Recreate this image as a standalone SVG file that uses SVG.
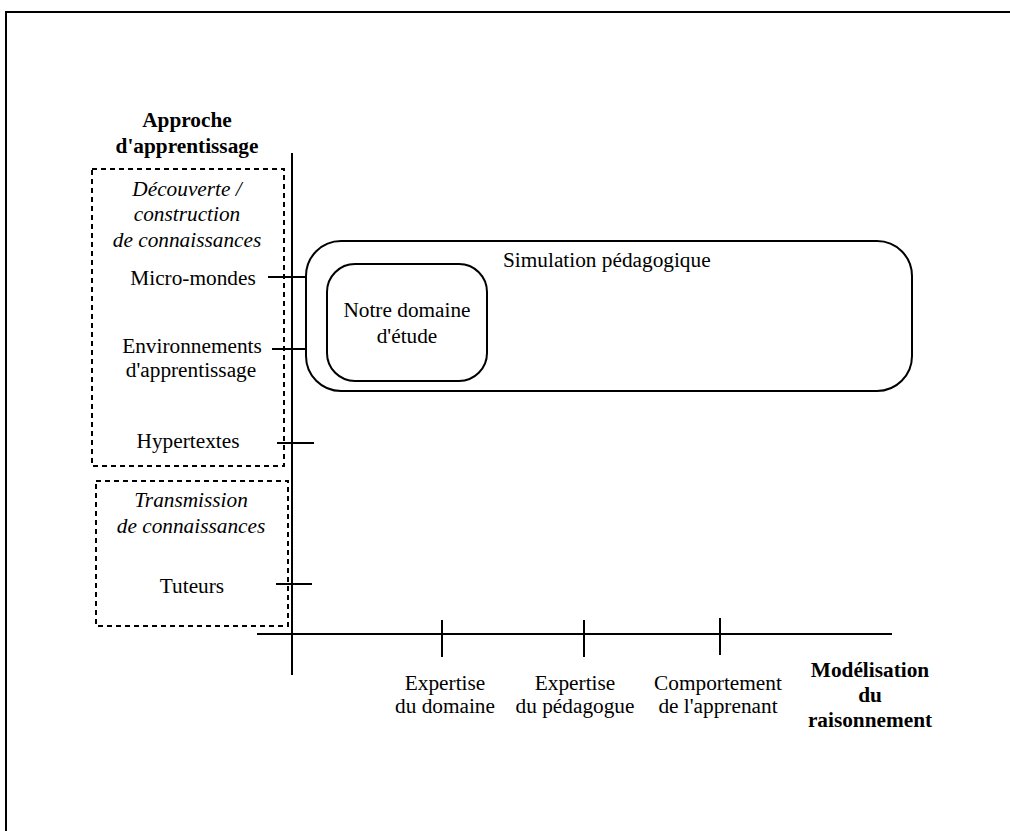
<svg xmlns="http://www.w3.org/2000/svg" width="1010" height="831" viewBox="0 0 1010 831">
<style>
text{font-family:"Liberation Serif","Times New Roman",serif;font-size:21.3px;fill:#000}
.b{font-weight:bold}
.i{font-style:italic}
.m{text-anchor:middle}
.ln{stroke:#000;stroke-width:2;fill:none}
.dash{stroke:#000;stroke-width:2;fill:none;stroke-dasharray:5 4}
.box{stroke:#000;stroke-width:2;fill:#fff}
</style>
<rect width="1010" height="831" fill="#fff"/>
<path class="ln" d="M6 840 V12 H1020"/>
<g id="connectors">
<line class="ln" x1="292" y1="153" x2="292" y2="675"/>
<line class="ln" x1="257" y1="634" x2="892" y2="634"/>
<line class="ln" x1="442" y1="620" x2="442" y2="657"/>
<line class="ln" x1="584" y1="620" x2="584" y2="657"/>
<line class="ln" x1="720" y1="618" x2="720" y2="655"/>
<line class="ln" x1="268" y1="277" x2="306" y2="277"/>
<line class="ln" x1="272" y1="349" x2="308" y2="349"/>
<line class="ln" x1="277" y1="443" x2="314" y2="443"/>
<line class="ln" x1="276" y1="584" x2="312" y2="584"/>
</g>
<g id="axis-y-title">
<text class="b m" x="187" y="127">Approche</text>
<text class="b m" x="187" y="153">d'apprentissage</text>
</g>
<g id="axis-x-title">
<text class="b m" x="870" y="677">Modélisation</text>
<text class="b m" x="870" y="702">du</text>
<text class="b m" x="870" y="727">raisonnement</text>
</g>
<g id="group-decouverte">
<rect class="dash" x="92" y="169" width="192" height="297"/>
<text class="i m" x="187" y="196">Découverte /</text>
<text class="i m" x="187" y="221">construction</text>
<text class="i m" x="187" y="247">de connaissances</text>
</g>
<g id="group-transmission">
<rect class="dash" x="96" y="481" width="192" height="145"/>
<text class="i m" x="191" y="507">Transmission</text>
<text class="i m" x="191" y="533">de connaissances</text>
</g>
<g id="micro-mondes"><text class="m" x="193" y="285">Micro-mondes</text></g>
<g id="environnements"><text class="m" x="192" y="353">Environnements</text><text class="m" x="191" y="377">d'apprentissage</text></g>
<g id="hypertextes"><text class="m" x="188" y="448">Hypertextes</text></g>
<g id="tuteurs"><text class="m" x="192" y="593">Tuteurs</text></g>
<g id="simulation">
<rect class="box" x="306" y="241" width="606" height="150" rx="35" ry="35"/>
<text x="503" y="267">Simulation pédagogique</text>
</g>
<g id="notre-domaine">
<rect class="box" x="327" y="264" width="160" height="117" rx="28" ry="28"/>
<text class="m" x="407" y="317">Notre domaine</text>
<text class="m" x="407" y="343">d'étude</text>
</g>
<g id="expertise-domaine"><text class="m" x="445" y="690">Expertise</text><text class="m" x="445" y="713">du domaine</text></g>
<g id="expertise-pedagogue"><text class="m" x="575" y="690">Expertise</text><text class="m" x="575" y="713">du pédagogue</text></g>
<g id="comportement"><text class="m" x="718" y="690">Comportement</text><text class="m" x="718" y="713">de l'apprenant</text></g>
</svg>
